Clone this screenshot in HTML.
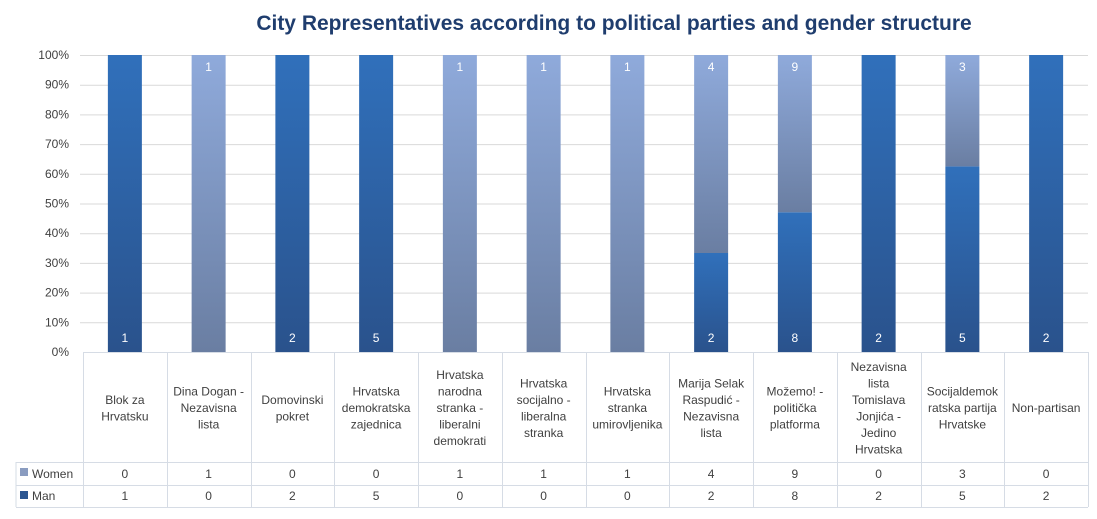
<!DOCTYPE html>
<html><head><meta charset="utf-8"><style>
body{margin:0;background:#fff}
text{font-family:"Liberation Sans",sans-serif}
</style></head><body>
<svg width="1097" height="514" xmlns="http://www.w3.org/2000/svg">
<defs>
<linearGradient id="m" x1="0" y1="0" x2="0" y2="1"><stop offset="0" stop-color="#3070bb"/><stop offset="1" stop-color="#2a528c"/></linearGradient>
<linearGradient id="w" x1="0" y1="0" x2="0" y2="1"><stop offset="0" stop-color="#8faadb"/><stop offset="1" stop-color="#6a7ea2"/></linearGradient>
</defs>
<text x="614" y="30" text-anchor="middle" font-size="21" font-weight="bold" fill="#1f3d6e">City Representatives according to political parties and gender structure</text>
<g id="grid" stroke="#d9d9d9" stroke-width="1"></g>
<g id="bars"></g>
<g id="tbl" stroke="#d6dce5" stroke-width="1" fill="none"></g>
<g id="txt" font-size="12" fill="#404040"></g>
</svg>
<script>
(function(){
const ns="http://www.w3.org/2000/svg";
function el(p,t,a,tx){const e=document.createElementNS(ns,t);for(const k in a)e.setAttribute(k,a[k]);if(tx!==undefined)e.textContent=tx;document.getElementById(p).appendChild(e);return e;}
const T0=55,bot=352,L=83,R=1088,cw=(R-L)/12;
for(let i=0;i<=10;i++){const y=bot-(bot-T0)*i/10;
 if(i>0)el('grid','line',{x1:80,x2:R,y1:y+.5,y2:y+.5});
 el('txt','text',{x:69,y:y+4,'text-anchor':'end'},(i*10)+'%');}
const cats=[["Blok za","Hrvatsku"],["Dina Dogan -","Nezavisna","lista"],["Domovinski","pokret"],["Hrvatska","demokratska","zajednica"],["Hrvatska","narodna","stranka -","liberalni","demokrati"],["Hrvatska","socijalno -","liberalna","stranka"],["Hrvatska","stranka","umirovljenika"],["Marija Selak","Raspudić -","Nezavisna","lista"],["Možemo! -","politička","platforma"],["Nezavisna","lista","Tomislava","Jonjića -","Jedino","Hrvatska"],["Socijaldemok","ratska partija","Hrvatske"],["Non-partisan"]];
const W=[0,1,0,0,1,1,1,4,9,0,3,0],M=[1,0,2,5,0,0,0,2,8,2,5,2];
for(let i=0;i<12;i++){const cx=L+cw*(i+.5),bx=cx-17,t=W[i]+M[i],H=bot-T0;
 const mh=H*M[i]/t,wh=H-mh;
 if(M[i])el('bars','rect',{x:bx,y:bot-mh,width:34,height:mh,fill:'url(#m)'});
 if(W[i])el('bars','rect',{x:bx,y:T0,width:34,height:wh,fill:'url(#w)'});
 if(M[i])el('bars','text',{x:cx,y:bot-10,'text-anchor':'middle','font-size':12,fill:'#fff'},M[i]);
 if(W[i])el('bars','text',{x:cx,y:T0+16,'text-anchor':'middle','font-size':12,fill:'#fff'},W[i]);
 const lines=cats[i],lh=16.5,y0=408-(lines.length-1)*lh/2+4;
 lines.forEach((s,k)=>el('txt','text',{x:cx,y:y0+k*lh,'text-anchor':'middle'},s));
 el('txt','text',{x:cx,y:478,'text-anchor':'middle'},W[i]);
 el('txt','text',{x:cx,y:500,'text-anchor':'middle'},M[i]);
}
for(let i=0;i<=12;i++){const x=Math.round(L+cw*i)+.5;el('tbl','line',{x1:x,x2:x,y1:352,y2:507});}
el('tbl','line',{x1:16,x2:16,y1:462,y2:507});
[[L,352.5],[16,462.5],[16,485.5],[16,507.5]].forEach(([x,y])=>el('tbl','line',{x1:x,x2:R,y1:y,y2:y}));
el('txt','rect',{x:20,y:468,width:8,height:8,fill:'#8a9cc0'});
el('txt','rect',{x:20,y:491,width:8,height:8,fill:'#2b5591'});
el('txt','text',{x:32,y:478},'Women');
el('txt','text',{x:32,y:500},'Man');
})();
</script>
</body></html>
